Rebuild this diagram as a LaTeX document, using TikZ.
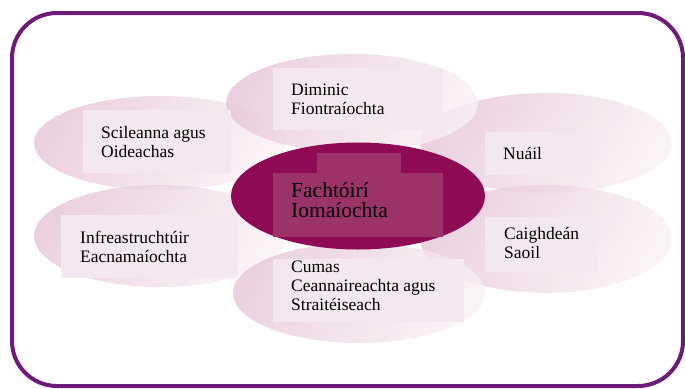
\documentclass[tikz,border=0pt]{standalone}
\usepackage{fontspec}
\setmainfont{Liberation Serif}
\usetikzlibrary{
  shapes.geometric,
  positioning
}
\definecolor{framepurple}{HTML}{6E1A78}
\definecolor{petaldark}{HTML}{E6C6D7}
\definecolor{petallight}{HTML}{F8F0F5}
\definecolor{boxpink}{HTML}{F4E8F0}
\definecolor{coremagenta}{HTML}{8F0A55}
\definecolor{coreboxcol}{HTML}{9B3368}

\begin{document}
\begin{tikzpicture}[x=1pt, y=-1pt,
    petal/.style = {ellipse, inner sep=0, minimum width=252, minimum height=98,
      left color=petaldark, right color=petallight, shading angle=60, fill opacity=0.8},
    tbox/.style = {rectangle, inner sep=0, fill=boxpink, anchor=north west},
    txt/.style = {align=left, anchor=west, inner sep=0,
      font=\fontsize{17.5}{19}\selectfont},
    bigtxt/.style = {align=left, anchor=west, inner sep=0,
      font=\fontsize{21.5}{19.5}\selectfont}
  ]
    \useasboundingbox (0,0) rectangle (685,388);
    \draw[rounded corners=45, line width=4, draw=framepurple] (12,13) rectangle (683,386);

    % petals
    \node[petal, minimum height=94] (pul) at (160,143) {};
    \node[petal, minimum height=100] (pur) at (546,143) {};
    \node[petal, minimum height=102] (pll) at (160,236) {};
    \node[petal, minimum height=108] (plr) at (546,239) {};
    \node[petal] (ptop) at (352,103) {};
    \node[petal, minimum height=100] (pbot) at (359,293) {};

    % text boxes
    \node[tbox, minimum width=170, minimum height=62] (btop) at (273,68) {};
    \node[tbox, minimum width=148, minimum height=63] (bul) at (83,110) {};
    \node[tbox, minimum width=107, minimum height=43] (bur) at (485,132) {};
    \node[tbox, minimum width=177, minimum height=63] (bll) at (61,215) {};
    \node[tbox, minimum width=112, minimum height=55] (blr) at (485,217) {};
    \node[tbox, minimum width=191, minimum height=63] (bbot) at (273,259) {};

    % core
    \node[ellipse, inner sep=0, fill=coremagenta, minimum width=254, minimum height=107] (core) at (358,196) {};
    \node[tbox, fill=coreboxcol, minimum width=84, minimum height=21] (cbtop) at (317,153) {};
    \node[tbox, fill=coreboxcol, minimum width=170, minimum height=64] (cbox) at (273,173) {};

    \node[txt] (ttop) at ([xshift=18]btop.west) {Diminic\\Fiontraíochta};
    \node[txt] (tul) at ([xshift=18]bul.west) {Scileanna agus\\Oideachas};
    \node[txt] (tur) at ([xshift=18]bur.west) {Nuáil};
    \node[txt] (tll) at ([xshift=19]bll.west) {Infreastruchtúir\\Eacnamaíochta};
    \node[txt] (tlr) at ([xshift=19,yshift=2]blr.west) {Caighdeán\\Saoil};
    \node[txt] (tbot) at ([xshift=18,yshift=5]bbot.west) {Cumas\\Ceannaireachta agus\\Straitéiseach};
    \node[bigtxt] (tcore) at ([xshift=18,yshift=5]cbox.west) {Fachtóirí\\Iomaíochta};
\end{tikzpicture}
\end{document}
